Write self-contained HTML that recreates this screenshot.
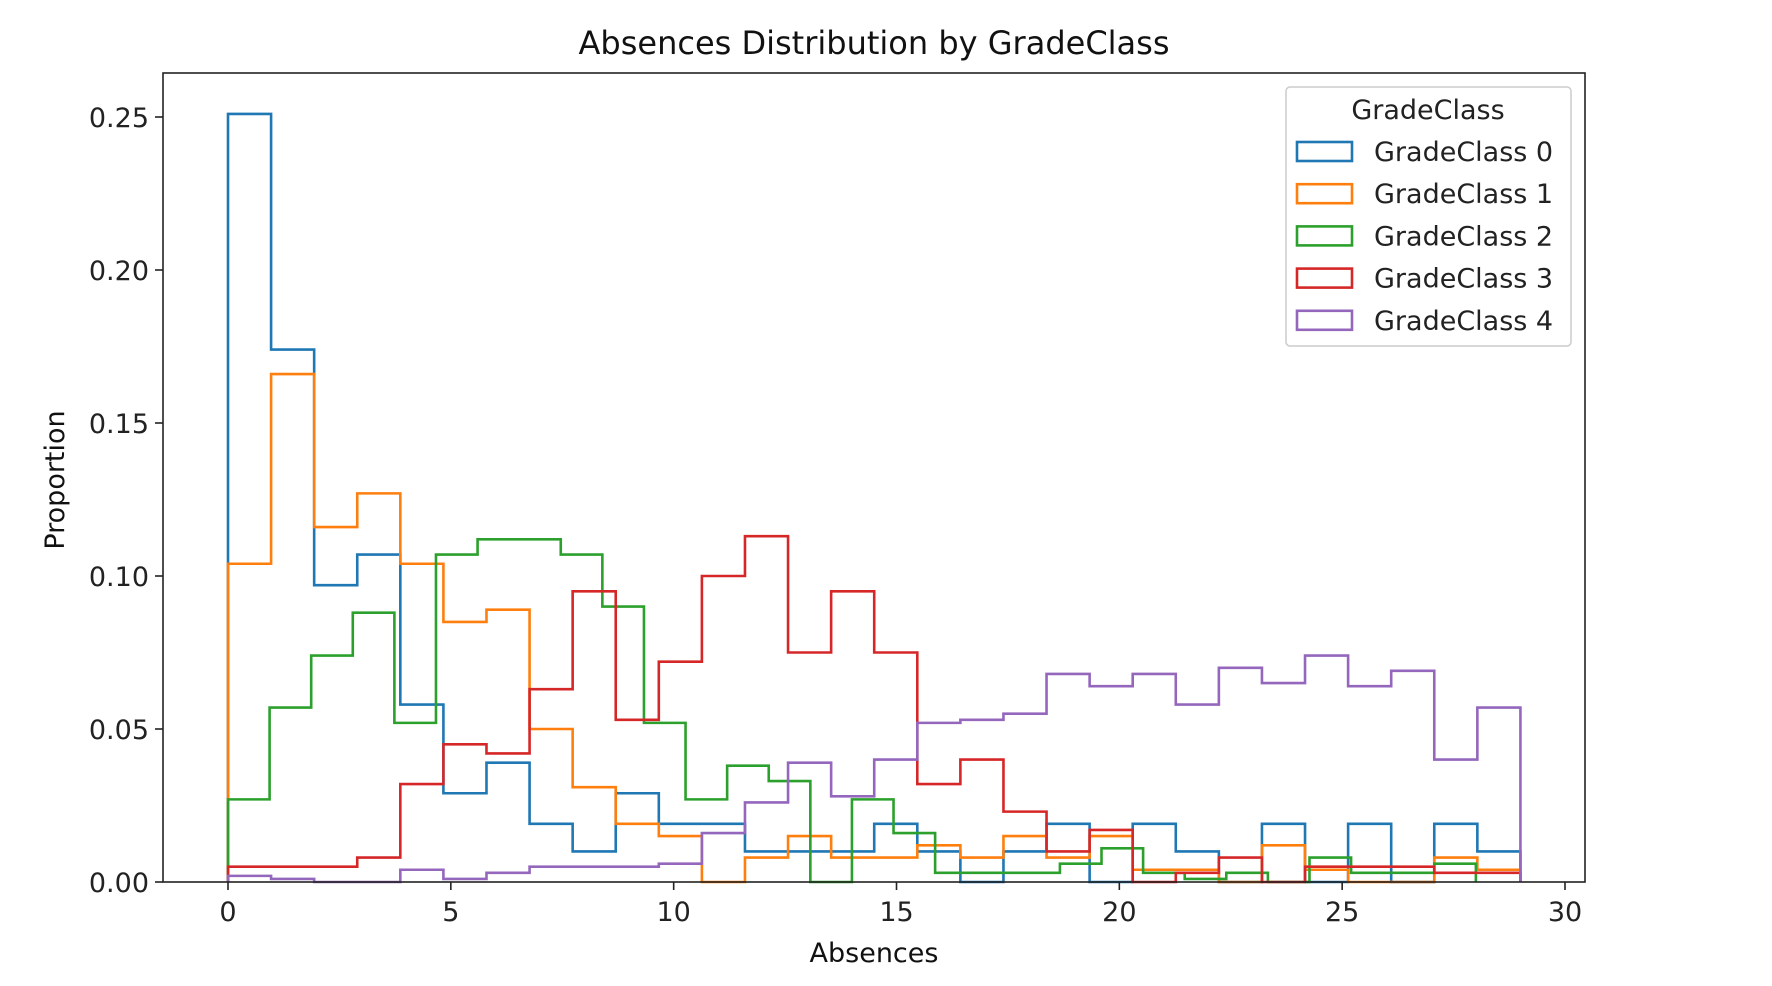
<!DOCTYPE html>
<html><head><meta charset="utf-8"><style>
html,body{margin:0;padding:0;background:#fff;}
svg{display:block;font-family:"DejaVu Sans","Liberation Sans",sans-serif;}
</style></head><body>
<svg id="chart" width="1772" height="986" viewBox="0 0 1772 986">
<rect width="1772" height="986" fill="#fff"/>
<text x="874" y="54" font-size="32" text-anchor="middle" fill="#111">Absences Distribution by GradeClass</text>
<g id="marks"></g>
<g id="axes"></g>
<text x="874" y="962" font-size="27" text-anchor="middle" fill="#111">Absences</text>
<text transform="translate(64,480) rotate(-90)" font-size="27" text-anchor="middle" fill="#111">Proportion</text>
<g id="legend"></g>
</svg>
<script>
const seriesNames = ["GradeClass 0","GradeClass 1","GradeClass 2","GradeClass 3","GradeClass 4"];
const seriesColors = ["#1f77b4","#ff7f0e","#2ca02c","#d62728","#9467bd"];
const seriesMax = [29,29,28,29,29];
const class0 = [0.251,0.174,0.097,0.107,0.058,0.029,0.039,0.019,0.010,0.029,0.019,0.019,0.010,0.010,0.010,0.019,0.010,0,0.010,0.019,0,0.019,0.010,0,0.019,0,0.019,0,0.019,0.010];
const class1 = [0.104,0.166,0.116,0.127,0.104,0.085,0.089,0.050,0.031,0.019,0.015,0,0.008,0.015,0.008,0.008,0.012,0.008,0.015,0.008,0.015,0.004,0.004,0,0.012,0.004,0,0,0.008,0.004];
const class2 = [0.027,0.057,0.074,0.088,0.052,0.107,0.112,0.112,0.107,0.090,0.052,0.027,0.038,0.033,0,0.027,0.016,0.003,0.003,0.003,0.006,0.011,0.003,0.001,0.003,0,0.008,0.003,0.003,0.006];
const class3 = [0.005,0.005,0.005,0.008,0.032,0.045,0.042,0.063,0.095,0.053,0.072,0.100,0.113,0.075,0.095,0.075,0.032,0.040,0.023,0.010,0.017,0,0.003,0.008,0,0.005,0.005,0.005,0.003,0.003];
const class4 = [0.002,0.001,0,0,0.004,0.001,0.003,0.005,0.005,0.005,0.006,0.016,0.026,0.039,0.028,0.040,0.052,0.053,0.055,0.068,0.064,0.068,0.058,0.070,0.065,0.074,0.064,0.069,0.040,0.057];
const xTicks = [0,5,10,15,20,25,30];
const yTicks = [0,0.05,0.10,0.15,0.20,0.25];
const yTickLabels = ["0.00","0.05","0.10","0.15","0.20","0.25"];

const allSeries = [class0,class1,class2,class3,class4];
const L=163,R=1585,T=73,B=882;
const x = v => 228 + (v/30)*(1565-228);
const y = v => B - (v/0.25)*(B-117);
const NS="http://www.w3.org/2000/svg";
function mk(tag, attrs, parent){const e=document.createElementNS(NS,tag);for(const k in attrs)e.setAttribute(k,attrs[k]);parent.appendChild(e);return e;}
const marks=document.getElementById('marks'), axes=document.getElementById('axes'), legend=document.getElementById('legend');

allSeries.forEach((vals,si)=>{
  const n=vals.length, w=seriesMax[si]/n;
  let d=`M${x(0)},${y(0)}`;
  vals.forEach((v,i)=>{d+=` L${x(i*w)},${y(v)} L${x((i+1)*w)},${y(v)}`;});
  d+=` L${x(seriesMax[si])},${y(0)}`;
  const p=mk('path',{d:d,fill:'none',stroke:seriesColors[si],'stroke-width':2.6,'stroke-linejoin':'miter'},marks);
  
  
});

const frame=mk('rect',{x:L,y:T,width:R-L,height:B-T,fill:'none',stroke:'#222','stroke-width':1.6},axes);


xTicks.forEach(t=>{
  mk('line',{x1:x(t),x2:x(t),y1:B,y2:B+8,stroke:'#222','stroke-width':1.6},axes);
  const tx=mk('text',{x:x(t),y:B+39,'font-size':27,'text-anchor':'middle',fill:'#222'},axes);
  tx.textContent=t;
  
  
});
yTicks.forEach((t,i)=>{
  mk('line',{x1:L-8,x2:L,y1:y(t),y2:y(t),stroke:'#222','stroke-width':1.6},axes);
  const tx=mk('text',{x:L-14,y:y(t)+10,'font-size':27,'text-anchor':'end',fill:'#222'},axes);
  tx.textContent=yTickLabels[i];
  
  
});

const lb=mk('rect',{x:1286,y:87,width:285,height:259,rx:4,fill:'#fff','fill-opacity':0.8,stroke:'#ccc','stroke-width':1.5},legend);


const lt=mk('text',{x:1428,y:119,'font-size':27,'text-anchor':'middle',fill:'#222'},legend);
lt.textContent='GradeClass';


seriesNames.forEach((nm,i)=>{
  const cy=151+i*42.2;
  const g=mk('g',{},legend);
  
  
  mk('rect',{x:1297,y:cy-9,width:55,height:19,fill:'none',stroke:seriesColors[i],'stroke-width':2.6},g);
  const t=mk('text',{x:1374,y:cy+10,'font-size':27,fill:'#222'},g);
  t.textContent=nm;
});
</script>
</body></html>
